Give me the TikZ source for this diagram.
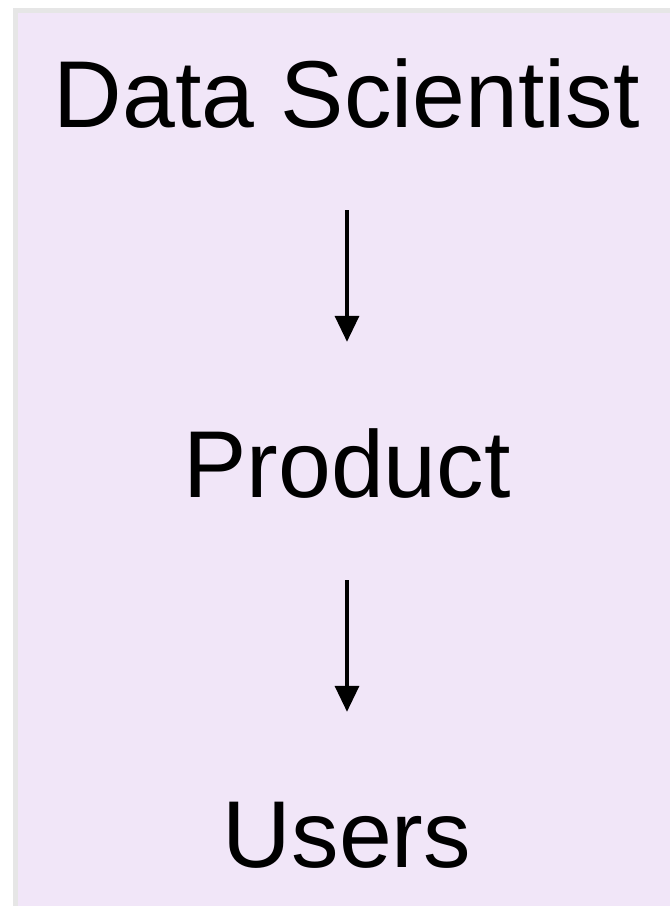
\documentclass[tikz,border=0pt]{standalone}
\usepackage{fontspec}
\setmainfont{Liberation Sans}
\usepackage{tikz}
\usetikzlibrary{arrows.meta}

\definecolor{frame}{RGB}{230,230,230}
\definecolor{lavender}{RGB}{241,230,248}

\begin{document}
\begin{tikzpicture}[x=1pt, y=1pt, node distance = 370pt,
		word/.style={inner sep=0pt, text height=68pt, text depth=0pt,
			font=\fontsize{95}{95}\selectfont},
		flow/.style={-{Triangle[length=26pt,width=24pt]}, line width=3.5pt,
			shorten <=82pt, shorten >=88pt}]
		\useasboundingbox (0,0) rectangle (670,906);
		\fill[frame] (13,0) rectangle (670,898);
		\fill[lavender] (18,0) rectangle (670,893);
		
		\node [word] (ds) at (347,812) {Data Scientist};
		\node [word, below of=ds] (prod) {Product};
		\node [word, below of=prod] (users) {Users};
		
		\draw[flow]
		(ds.south) -- (prod.north);
		\draw[flow]
		(prod.south) -- (users.north);
		
		\end{tikzpicture}
\end{document}
